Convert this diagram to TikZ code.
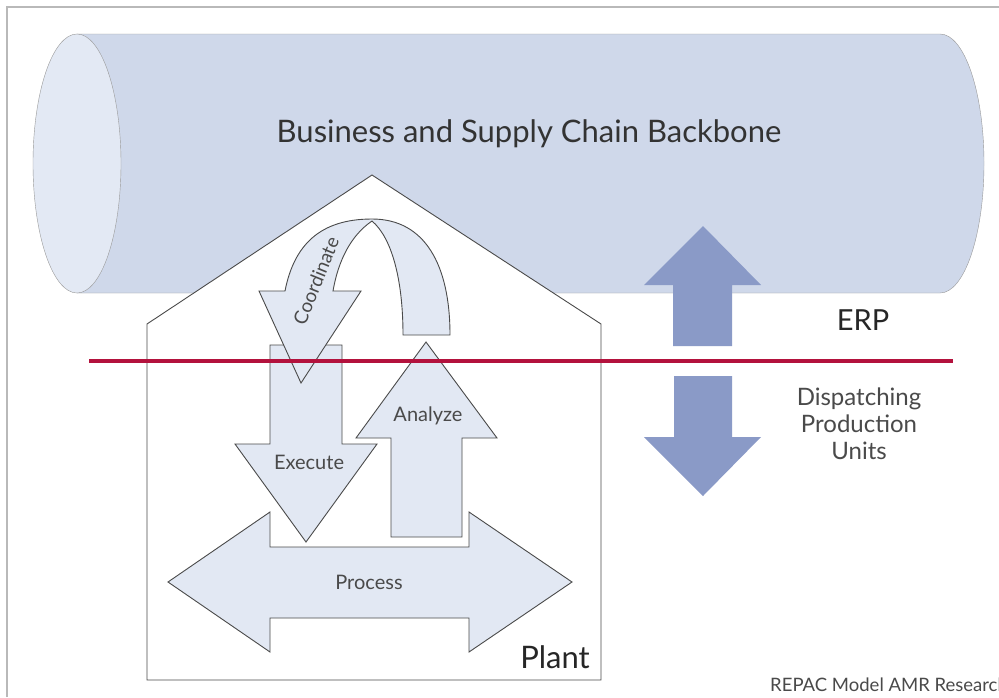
\documentclass[tikz,border=0pt]{standalone}
\usepackage{fontspec}
\setmainfont{Lato}
\definecolor{tubeblue}{HTML}{CFD8EA}
\definecolor{tubeend}{HTML}{E3E9F4}
\definecolor{cyclefill}{HTML}{E2E8F3}
\definecolor{erpblue}{HTML}{8A9AC7}
\definecolor{cutred}{HTML}{B3123D}
\definecolor{inkgray}{HTML}{4A4A4A}
\tikzset{
  blockarrow/.style={fill=cyclefill, draw=inkgray, line width=0.9pt, line join=miter},
  erparrow/.style={fill=erpblue},
  label/.style={text=inkgray, inner sep=0pt}
}

\begin{document}
\begin{tikzpicture}[x=1pt,y=-1pt]
	\useasboundingbox (0,0) rectangle (999,697);
	\fill[white] (0,0) rectangle (999,697);
	\draw[gray!55, line width=1.2pt] (7,697) -- (7,7) -- (999,7);

	\filldraw[fill=tubeblue, draw=gray!80] (77,34) -- (940,34)
		arc[start angle=-90, end angle=90, x radius=44, y radius=129.5]
		-- (77,293) -- cycle;
	\filldraw[fill=tubeend, draw=gray!80] (77,163.5) ellipse [x radius=44, y radius=129.5];
	\node[label, font=\fontsize{31}{36}\selectfont, text=black!80] (backbone) at (529,134) {Business and Supply Chain Backbone};

	\filldraw[fill=white, draw=inkgray, line width=0.9pt] (147,680) -- (147,324) -- (372,175) -- (601,324) -- (601,680) -- cycle;

	\draw[blockarrow] (168,582) -- (270,512) -- (270,547) -- (469,547) -- (469,512) -- (572,582)
		-- (469,652) -- (469,618) -- (270,618) -- (270,652) -- cycle;
	\draw[blockarrow] (391,537) -- (391,438) -- (356,438) -- (426,342) -- (497,438) -- (462,438) -- (462,537) -- cycle;
	\draw[blockarrow] (270,345) -- (342,345) -- (342,444) -- (377,444) -- (306,542) -- (235,444) -- (270,444) -- cycle;
	\draw[blockarrow] (333,291) -- (361,291) -- (301,383) -- (259,291) -- (285,291)
		.. controls (294,245) and (320,219) .. (372,219)
		.. controls (425,219) and (450,265) .. (450,335)
		-- (403,335)
		.. controls (403,280) and (392,238) .. (372,221)
		.. controls (350,236) and (338,262) .. cycle;

	\node[label, font=\fontsize{19}{22}\selectfont, rotate=68] (coordinate) at (316,281) {Coordinate};
	\node[label, font=\fontsize{20}{24}\selectfont] (execute) at (309,462) {Execute};
	\node[label, font=\fontsize{20}{24}\selectfont] (analyze) at (428,416) {Analyze};
	\node[label, font=\fontsize{20}{24}\selectfont] (process) at (369,582) {Process};
	\node[label, font=\fontsize{31}{36}\selectfont, text=black!85] (plant) at (555,657) {Plant};

	\fill[erparrow] (673,346) -- (673,285) -- (644,285) -- (703,226) -- (761,285) -- (732,285) -- (732,346) -- cycle;
	\fill[erparrow] (674,376) -- (732,376) -- (732,437) -- (761,437) -- (703,496) -- (644,437) -- (674,437) -- cycle;

	\draw[cutred, line width=4pt] (89,361) -- (953,361);

	\node[label, font=\fontsize{29}{34}\selectfont, text=black!85] (erp) at (863,320) {ERP};
	\node[label, font=\fontsize{24}{27}\selectfont, align=center] (dispatch) at (859,424) {Dispatching\\Production\\Units};
	\node[label, font=\fontsize{18.5}{22}\selectfont, anchor=west] (source) at (770,685) {REPAC Model AMR Research};
\end{tikzpicture}
\end{document}
